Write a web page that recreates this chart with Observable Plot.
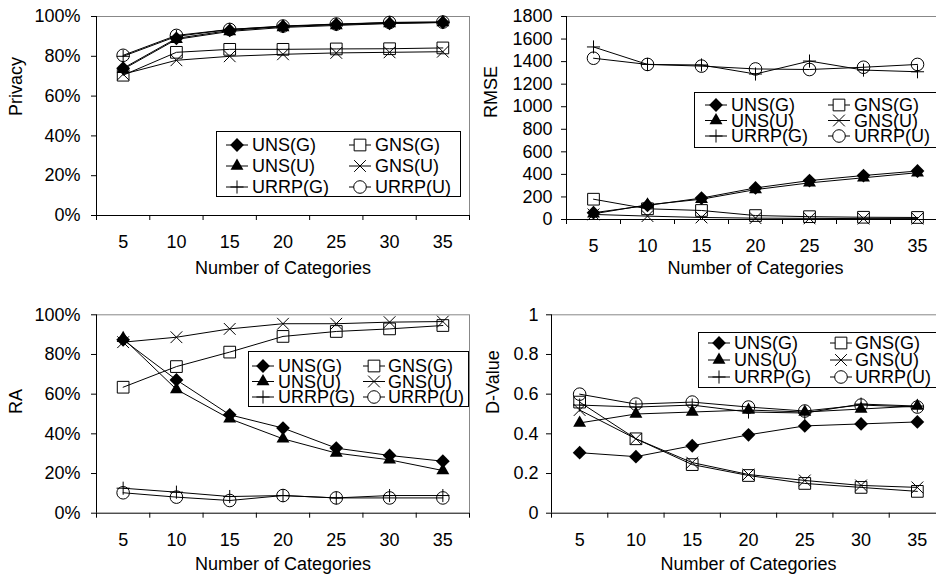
<!DOCTYPE html>
<html><head><meta charset="utf-8">
<script src="https://cdn.jsdelivr.net/npm/d3@7"></script>
<script src="https://cdn.jsdelivr.net/npm/@observablehq/plot@0.6"></script>
<style>
body{margin:0;background:#fff;}
#chart{position:relative;width:936px;height:580px;overflow:hidden;font-family:"Liberation Sans",Arial,sans-serif;background:#fff;}
.panel{position:absolute;}
#legends{position:absolute;left:0;top:0;}
</style></head><body><div id="chart"></div>
<script>
// ---- data ----
const categories = [5, 10, 15, 20, 25, 30, 35];
const seriesNames = ["UNS(G)", "UNS(U)", "URRP(G)", "GNS(G)", "GNS(U)", "URRP(U)"];
const legendRows = [["UNS(G)", "GNS(G)"], ["UNS(U)", "GNS(U)"], ["URRP(G)", "URRP(U)"]];
const xAxisTitle = "Number of Categories";

// values in the order of seriesNames
const privacyValues = [
  [0.74, 0.89, 0.93, 0.95, 0.96, 0.965, 0.97],
  [0.735, 0.885, 0.925, 0.945, 0.955, 0.965, 0.97],
  [0.80, 0.90, 0.935, 0.95, 0.96, 0.97, 0.972],
  [0.705, 0.82, 0.835, 0.835, 0.837, 0.838, 0.842],
  [0.71, 0.78, 0.80, 0.81, 0.817, 0.82, 0.823],
  [0.805, 0.905, 0.935, 0.952, 0.962, 0.97, 0.972]
];
const rmseValues = [
  [60, 125, 190, 280, 345, 390, 430],
  [50, 130, 180, 265, 325, 370, 415],
  [1530, 1375, 1370, 1290, 1405, 1325, 1310],
  [180, 95, 80, 35, 25, 20, 18],
  [45, 30, 18, 12, 10, 8, 8],
  [1430, 1375, 1360, 1335, 1330, 1350, 1375]
];
const raValues = [
  [0.874, 0.672, 0.496, 0.429, 0.328, 0.291, 0.262],
  [0.882, 0.624, 0.476, 0.375, 0.303, 0.269, 0.215],
  [0.126, 0.106, 0.084, 0.089, 0.077, 0.089, 0.089],
  [0.635, 0.739, 0.812, 0.891, 0.916, 0.929, 0.946],
  [0.862, 0.887, 0.929, 0.955, 0.955, 0.963, 0.966],
  [0.103, 0.081, 0.064, 0.089, 0.077, 0.077, 0.077]
];
const dValues = [
  [0.305, 0.285, 0.34, 0.395, 0.44, 0.45, 0.46],
  [0.455, 0.50, 0.51, 0.52, 0.51, 0.525, 0.54],
  [0.545, 0.535, 0.545, 0.51, 0.505, 0.55, 0.54],
  [0.56, 0.375, 0.245, 0.19, 0.15, 0.13, 0.11],
  [0.52, 0.375, 0.255, 0.195, 0.165, 0.14, 0.13],
  [0.60, 0.55, 0.56, 0.535, 0.515, 0.545, 0.535]
];
const percentTicks = [0, 0.2, 0.4, 0.6, 0.8, 1];
const rmseTicks = [0, 200, 400, 600, 800, 1000, 1200, 1400, 1600, 1800];
const dTicks = [0, 0.2, 0.4, 0.6, 0.8, 1];

// ---- styles ----
const seriesStyle = {
  "UNS(G)":  {symbol: "diamond2", d3sym: d3.symbolDiamond2, r: 6.2, filled: true},
  "UNS(U)":  {symbol: "triangle", d3sym: d3.symbolTriangle, r: 4.8, filled: true},
  "URRP(G)": {symbol: "plus", d3sym: d3.symbolPlus, r: 4.3, filled: false},
  "GNS(G)":  {symbol: "square", d3sym: d3.symbolSquare, r: 6.6, filled: false},
  "GNS(U)":  {symbol: "times", d3sym: d3.symbolTimes, r: 5.4, filled: false},
  "URRP(U)": {symbol: "circle", d3sym: d3.symbolCircle, r: 6.3, filled: false}
};
const FONT = '"Liberation Sans", Arial, sans-serif';
const chart = document.getElementById("chart");
const xDomain = [categories[0] - 2.5, categories[categories.length - 1] + 2.5];
const bounds = [categories[0] - 2.5, ...categories.map(c => c + 2.5)];

function makePanel(cfg) {
  const data = cfg.values.flatMap((vals, i) => vals.map((v, j) => ({series: seriesNames[i], x: categories[j], y: v})));
  const marks = [
    Plot.ruleY([cfg.yDomain[1]], {stroke: "#888", strokeWidth: 1}),
    Plot.ruleX([xDomain[1]], {stroke: "#888", strokeWidth: 1}),
    Plot.axisY({ticks: cfg.yTicks, tickFormat: cfg.yFormat, tickSize: 5, tickPadding: cfg.tickPadding, label: null, stroke: "black"}),
    Plot.axisX({ticks: bounds, tickSize: 5, tickFormat: () => "", label: null}),
    Plot.axisX({ticks: categories, tickSize: 0, tickPadding: 20, label: null}),
    Plot.ruleX([xDomain[0]], {stroke: "black", strokeWidth: 1}),
    Plot.ruleY([cfg.yDomain[0]], {stroke: "black", strokeWidth: 1}),
    Plot.line(data, {x: "x", y: "y", z: "series", stroke: "black", strokeWidth: 1}),
    ...seriesNames.map(s => {
      const st = seriesStyle[s];
      return Plot.dot(data.filter(d => d.series === s), {
        x: "x", y: "y", symbol: st.symbol, r: st.r,
        fill: st.filled ? "black" : "none",
        stroke: st.filled ? "none" : "black", strokeWidth: 1
      });
    }),
    Plot.text([xAxisTitle], {text: d => d, frameAnchor: "bottom", dy: cfg.xLabelDy, fontSize: 18, fill: "black"}),
    Plot.text([cfg.yLabel], {text: d => d, frameAnchor: "left", dx: cfg.yLabelDx, rotate: -90, fontSize: 18, fill: "black"})
  ];
  const svg = Plot.plot({
    width: cfg.width, height: cfg.height,
    marginLeft: cfg.ml, marginRight: cfg.mr, marginTop: cfg.mt, marginBottom: cfg.mb,
    x: {type: "linear", domain: xDomain, label: null},
    y: {type: "linear", domain: cfg.yDomain, label: null},
    style: {fontFamily: FONT, fontSize: "18px", color: "black", background: "transparent", maxWidth: "none", overflow: "visible"},
    marks
  });
  const div = document.createElement("div");
  div.className = "panel";
  div.style.left = cfg.left + "px";
  div.style.top = cfg.top + "px";
  div.appendChild(svg);
  chart.appendChild(div);
}

const pct = d3.format(".0%");
makePanel({values: privacyValues, yDomain: [0, 1], yTicks: percentTicks, yFormat: pct, yLabel: "Privacy",
  left: 0, top: 0, width: 470, height: 290, ml: 96, mr: 1, mt: 16, mb: 75, tickPadding: 11, xLabelDy: 58, yLabelDx: -80.5});
makePanel({values: rmseValues, yDomain: [0, 1800], yTicks: rmseTicks, yFormat: d3.format("d"), yLabel: "RMSE",
  left: 466, top: 0, width: 480, height: 290, ml: 100, mr: 2, mt: 16, mb: 71, tickPadding: 9, xLabelDy: 54, yLabelDx: -75});
makePanel({values: raValues, yDomain: [0, 1], yTicks: percentTicks, yFormat: pct, yLabel: "RA",
  left: 0, top: 290, width: 470, height: 290, ml: 96, mr: 1, mt: 24.3, mb: 67.3, tickPadding: 11, xLabelDy: 57, yLabelDx: -80.5});
makePanel({values: dValues, yDomain: [0, 1], yTicks: dTicks, yFormat: d => String(d), yLabel: "D-Value",
  left: 466, top: 290, width: 480, height: 290, ml: 85, mr: 1, mt: 24.3, mb: 67.3, tickPadding: 8, xLabelDy: 57, yLabelDx: -58});

// ---- legends ----
const legendBoxes = [
  {left: 216, top: 131, width: 244, height: 65, rows: [145, 166, 187], cols: [237, 360], textX: [252, 375]},
  {left: 694, top: 92, width: 260, height: 55, rows: [105, 120.5, 136], cols: [716, 839], textX: [731, 854]},
  {left: 248, top: 351, width: 220, height: 55, rows: [366, 381.5, 397], cols: [263, 374], textX: [278, 388]},
  {left: 698, top: 332, width: 250, height: 55, rows: [343, 360, 377], cols: [719, 841], textX: [734, 855]}
];
const ns = "http://www.w3.org/2000/svg";
const lsvg = document.createElementNS(ns, "svg");
lsvg.setAttribute("id", "legends");
lsvg.setAttribute("width", 936);
lsvg.setAttribute("height", 580);
function el(name, attrs, parent) {
  const e = document.createElementNS(ns, name);
  for (const k in attrs) e.setAttribute(k, attrs[k]);
  parent.appendChild(e);
  return e;
}
for (const b of legendBoxes) {
  el("rect", {x: b.left + 0.5, y: b.top + 0.5, width: b.width, height: b.height, fill: "white", stroke: "black", "stroke-width": 1}, lsvg);
  legendRows.forEach((row, ri) => {
    row.forEach((name, ci) => {
      const cx = b.cols[ci], cy = b.rows[ri];
      const st = seriesStyle[name];
      el("line", {x1: cx - 11, x2: cx + 11, y1: cy, y2: cy, stroke: "black", "stroke-width": 1}, lsvg);
      el("path", {d: d3.symbol(st.d3sym, st.r * st.r * Math.PI)(), transform: `translate(${cx},${cy})`,
        fill: st.filled ? "black" : "white", stroke: st.filled ? "none" : "black", "stroke-width": 1}, lsvg);
      const t = el("text", {x: b.textX[ci], y: cy + 6.4, "font-size": 18, "font-family": FONT, fill: "black"}, lsvg);
      t.textContent = name;
    });
  });
}
chart.appendChild(lsvg);
</script></body></html>
